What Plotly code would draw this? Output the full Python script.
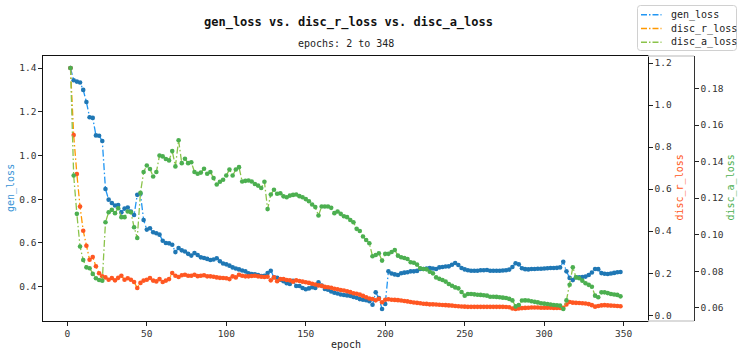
import plotly.graph_objects as go

# ---------------- data ----------------
epochs = list(range(2, 349, 2))

gen_loss = [
    1.400, 1.344, 1.338, 1.334, 1.300, 1.245, 1.175, 1.172, 1.092, 1.090,
    1.066, 0.847, 0.798, 0.783, 0.771, 0.773, 0.740, 0.757, 0.762, 0.744,
    0.728, 0.820, 0.825, 0.705, 0.661, 0.667, 0.649, 0.644, 0.638, 0.610,
    0.600, 0.598, 0.592, 0.558, 0.577, 0.566, 0.561, 0.550, 0.542, 0.554,
    0.545, 0.534, 0.531, 0.527, 0.522, 0.524, 0.530, 0.516, 0.506, 0.502,
    0.496, 0.488, 0.483, 0.479, 0.474, 0.470, 0.461, 0.458, 0.456, 0.453,
    0.449, 0.450, 0.462, 0.473, 0.443, 0.440, 0.432, 0.425, 0.416, 0.412,
    0.427, 0.403, 0.403, 0.394, 0.388, 0.392, 0.397, 0.394, 0.420, 0.405,
    0.389, 0.386, 0.378, 0.372, 0.369, 0.364, 0.362, 0.360, 0.358, 0.353,
    0.349, 0.343, 0.340, 0.338, 0.333, 0.317, 0.374, 0.348, 0.298, 0.321,
    0.470, 0.460, 0.456, 0.453, 0.461, 0.464, 0.466, 0.470, 0.470, 0.472,
    0.481, 0.481, 0.483, 0.485, 0.483, 0.481, 0.488, 0.490, 0.492, 0.493,
    0.500, 0.508, 0.499, 0.485, 0.479, 0.475, 0.473, 0.473, 0.473, 0.475,
    0.475, 0.476, 0.473, 0.473, 0.473, 0.473, 0.474, 0.475, 0.478, 0.490,
    0.507, 0.502, 0.484, 0.480, 0.479, 0.481, 0.481, 0.482, 0.482, 0.483,
    0.484, 0.485, 0.485, 0.486, 0.488, 0.514, 0.470, 0.440, 0.430, 0.443,
    0.443, 0.444, 0.446, 0.453, 0.465, 0.481, 0.480, 0.462, 0.459, 0.458,
    0.460, 0.463, 0.466, 0.467,
]

disc_r_loss = [
    1.176, 0.857, 0.672, 0.517, 0.402, 0.331, 0.264, 0.277, 0.233, 0.200,
    0.185, 0.180, 0.169, 0.177, 0.166, 0.178, 0.188, 0.169, 0.176, 0.169,
    0.158, 0.130, 0.154, 0.165, 0.169, 0.177, 0.165, 0.161, 0.172, 0.158,
    0.165, 0.172, 0.201, 0.188, 0.182, 0.190, 0.193, 0.188, 0.188, 0.193,
    0.186, 0.188, 0.190, 0.185, 0.185, 0.183, 0.180, 0.178, 0.177, 0.176,
    0.172, 0.185, 0.180, 0.193, 0.188, 0.185, 0.185, 0.187, 0.188, 0.185,
    0.183, 0.182, 0.183, 0.166, 0.180, 0.162, 0.172, 0.172, 0.168, 0.166,
    0.160, 0.166, 0.163, 0.160, 0.157, 0.154, 0.150, 0.146, 0.142, 0.140,
    0.135, 0.133, 0.131, 0.126, 0.124, 0.120, 0.118, 0.114, 0.110, 0.105,
    0.102, 0.098, 0.092, 0.086, 0.080, 0.077, 0.071, 0.078, 0.062, 0.074,
    0.076, 0.074, 0.073, 0.072, 0.070, 0.068, 0.066, 0.063, 0.061, 0.059,
    0.057, 0.055, 0.054, 0.052, 0.052, 0.051, 0.050, 0.049, 0.048, 0.047,
    0.046, 0.044, 0.043, 0.042, 0.041, 0.040, 0.040, 0.040, 0.040, 0.040,
    0.040, 0.040, 0.040, 0.040, 0.040, 0.040, 0.040, 0.039, 0.038, 0.032,
    0.030, 0.032, 0.034, 0.035, 0.036, 0.037, 0.037, 0.037, 0.036, 0.036,
    0.036, 0.036, 0.035, 0.035, 0.035, 0.035, 0.051, 0.063, 0.060, 0.059,
    0.058, 0.057, 0.056, 0.053, 0.048, 0.041, 0.044, 0.047, 0.048, 0.047,
    0.046, 0.045, 0.044, 0.043,
]

disc_a_loss = [
    0.1913, 0.1324, 0.1114, 0.0935, 0.0861, 0.0821, 0.0816, 0.0785, 0.0761, 0.0752,
    0.0748, 0.1068, 0.1123, 0.1136, 0.1118, 0.1145, 0.1096, 0.1096, 0.1127, 0.1123,
    0.1041, 0.0982, 0.1229, 0.1343, 0.1379, 0.1360, 0.1319, 0.1343, 0.1434, 0.1429,
    0.1415, 0.1407, 0.1458, 0.1374, 0.1517, 0.1392, 0.1416, 0.1392, 0.1397, 0.1343,
    0.1334, 0.1340, 0.1361, 0.1334, 0.1343, 0.1310, 0.1275, 0.1290, 0.1301, 0.1324,
    0.1357, 0.1324, 0.1357, 0.1370, 0.1291, 0.1295, 0.1297, 0.1291, 0.1278, 0.1269,
    0.1256, 0.1290, 0.1140, 0.1220, 0.1246, 0.1224, 0.1227, 0.1210, 0.1205, 0.1214,
    0.1218, 0.1220, 0.1211, 0.1205, 0.1195, 0.1183, 0.1165, 0.1151, 0.1105, 0.1154,
    0.1154, 0.1154, 0.1147, 0.1118, 0.1127, 0.1114, 0.1101, 0.1096, 0.1080, 0.1068,
    0.1032, 0.1020, 0.0990, 0.0971, 0.0953, 0.0882, 0.0889, 0.0898, 0.0858, 0.0895,
    0.0895, 0.0905, 0.0916, 0.0885, 0.0876, 0.0872, 0.0867, 0.0849, 0.0846, 0.0836,
    0.0816, 0.0812, 0.0810, 0.0797, 0.0788, 0.0766, 0.0758, 0.0752, 0.0743, 0.0730,
    0.0720, 0.0711, 0.0706, 0.0686, 0.0666, 0.0675, 0.0675, 0.0673, 0.0671, 0.0670,
    0.0668, 0.0666, 0.0660, 0.0660, 0.0659, 0.0657, 0.0655, 0.0653, 0.0648, 0.0640,
    0.0607, 0.0615, 0.0639, 0.0640, 0.0639, 0.0635, 0.0632, 0.0629, 0.0624, 0.0622,
    0.0620, 0.0617, 0.0615, 0.0613, 0.0611, 0.0593, 0.0640, 0.0726, 0.0821, 0.0766,
    0.0761, 0.0748, 0.0734, 0.0725, 0.0715, 0.0666, 0.0657, 0.0684, 0.0684, 0.0680,
    0.0675, 0.0672, 0.0670, 0.0662,
]

x_ticks = [0, 50, 100, 150, 200, 250, 300, 350]
gen_ticks = [0.4, 0.6, 0.8, 1.0, 1.2, 1.4]
disc_r_ticks = [0.0, 0.2, 0.4, 0.6, 0.8, 1.0, 1.2]
disc_a_ticks = [0.06, 0.08, 0.10, 0.12, 0.14, 0.16, 0.18]

series_names = ["gen_loss", "disc_r_loss", "disc_a_loss"]
title_text = "gen_loss vs. disc_r_loss vs. disc_a_loss"
subtitle_text = "epochs: 2 to 348"

# ---------------- style ----------------
MONO = "DejaVu Sans Mono"
DASH = "7px,2.5px,1.5px,2.5px"
TICK_COLOR = "#333333"
XDOM = 605 / 651
LINE_COLORS = ["#2196f3", "#ff9800", "#8bc34a"]
MARKER_COLORS = ["#1f77b4", "#ff5722", "#4caf50"]
YAXES = ["y", "y2", "y3"]

fig = go.Figure()

for name, vals, yax, lc, mc in zip(series_names, [gen_loss, disc_r_loss, disc_a_loss],
                                   YAXES, LINE_COLORS, MARKER_COLORS):
    fig.add_trace(go.Scatter(
        x=epochs, y=vals, mode="lines", name=name, yaxis=yax, showlegend=False,
        line=dict(color=lc, width=1.3, dash=DASH),
    ))
    fig.add_trace(go.Scatter(
        x=epochs, y=vals, mode="markers", name=name, yaxis=yax, showlegend=False,
        marker=dict(color=mc, size=4.6, line=dict(width=0)),
    ))

common_axis = dict(
    showgrid=False, zeroline=False, ticks="outside", ticklen=3.5, tickwidth=1,
    tickcolor="#222222", tickfont=dict(family=MONO, size=9.5, color=TICK_COLOR),
)

fig.update_layout(
    width=738, height=350,
    margin=dict(l=43, r=44, t=56, b=29),
    paper_bgcolor="white", plot_bgcolor="white",
    font=dict(family=MONO, color=TICK_COLOR),
    showlegend=False,
    xaxis=dict(
        domain=[0, XDOM], range=[-15.3, 365.3], tickvals=x_ticks,
        ticktext=[str(t) for t in x_ticks],
        showline=True, linecolor="#111111", linewidth=1.4, mirror=True,
        **common_axis,
    ),
    yaxis=dict(
        range=[0.2429, 1.4551], tickvals=gen_ticks,
        ticktext=[f"{t:.1f}" for t in gen_ticks],
        showline=True, linecolor="#111111", linewidth=1.4, mirror=True,
        **common_axis,
    ),
    yaxis2=dict(
        overlaying="y", side="right", anchor="x",
        range=[-0.0273, 1.2333], tickvals=disc_r_ticks,
        ticktext=[f"{t:.1f}" for t in disc_r_ticks],
        showline=True, linecolor="#111111", linewidth=1.4,
        **common_axis,
    ),
    yaxis3=dict(
        overlaying="y", side="right", anchor="free", position=1.0,
        range=[0.0527, 0.1979], tickvals=disc_a_ticks,
        ticktext=[f"{t:.2f}" for t in disc_a_ticks],
        showline=True, linecolor="#333333", linewidth=1.2,
        **common_axis,
    ),
)


def px_x(px):
    return (px - 43) / 651


def px_y(py):
    return (321 - py) / 265


# grey frame around the offset third-axis strip
fig.add_shape(type="line", xref="paper", yref="paper", x0=XDOM, x1=1.0, y0=1, y1=1,
              line=dict(color="#cfcfcf", width=1.5))
fig.add_shape(type="line", xref="paper", yref="paper", x0=XDOM, x1=1.0, y0=0, y1=0,
              line=dict(color="#cfcfcf", width=1.5))

# legend box (matplotlib style, rounded corners)
lx0, lx1, ly0, ly1, r = 637.5, 736.5, 5.5, 50.5, 3
path = (
    f"M {px_x(lx0 + r)},{px_y(ly0)} L {px_x(lx1 - r)},{px_y(ly0)} "
    f"Q {px_x(lx1)},{px_y(ly0)} {px_x(lx1)},{px_y(ly0 + r)} "
    f"L {px_x(lx1)},{px_y(ly1 - r)} Q {px_x(lx1)},{px_y(ly1)} {px_x(lx1 - r)},{px_y(ly1)} "
    f"L {px_x(lx0 + r)},{px_y(ly1)} Q {px_x(lx0)},{px_y(ly1)} {px_x(lx0)},{px_y(ly1 - r)} "
    f"L {px_x(lx0)},{px_y(ly0 + r)} Q {px_x(lx0)},{px_y(ly0)} {px_x(lx0 + r)},{px_y(ly0)} Z"
)
fig.add_shape(type="path", xref="paper", yref="paper", path=path,
              line=dict(color="#d0d0d0", width=1), fillcolor="rgba(255,255,255,0.85)")

legend_rows = [14.7, 28.6, 42.3]
for name, lc, ry in zip(series_names, LINE_COLORS, legend_rows):
    fig.add_shape(type="line", xref="paper", yref="paper",
                  x0=px_x(641), x1=px_x(661.5), y0=px_y(ry), y1=px_y(ry),
                  line=dict(color=lc, width=1.5, dash="6px,2px,1.5px,2px"))
    fig.add_annotation(text=name, xref="paper", yref="paper", showarrow=False,
                       x=px_x(668.5), y=px_y(ry), xanchor="left", yanchor="middle",
                       font=dict(family=MONO, size=10, color="#222222"))

annotations = [
    dict(text=f"<b>{title_text}</b>", x=px_x(348), y=px_y(22), font=dict(size=12, color="#111111")),
    dict(text=subtitle_text, x=px_x(346), y=px_y(43), font=dict(size=10, color="#222222")),
    dict(text="epoch", x=px_x(345.5), y=px_y(344.5), font=dict(size=10, color="#222222")),
    dict(text="gen_loss", x=px_x(11), y=px_y(188), textangle=-90, font=dict(size=10, color="#3a94d6")),
    dict(text="disc_r_loss", x=px_x(679.5), y=px_y(188), textangle=-90, font=dict(size=10, color="#ff5722")),
    dict(text="disc_a_loss", x=px_x(730.5), y=px_y(188), textangle=-90, font=dict(size=10, color="#4caf50")),
]
for a in annotations:
    fig.add_annotation(xref="paper", yref="paper", showarrow=False,
                       xanchor="center", yanchor="middle",
                       font_family=MONO, **{k: v for k, v in a.items()})

fig.write_html("out.html")
